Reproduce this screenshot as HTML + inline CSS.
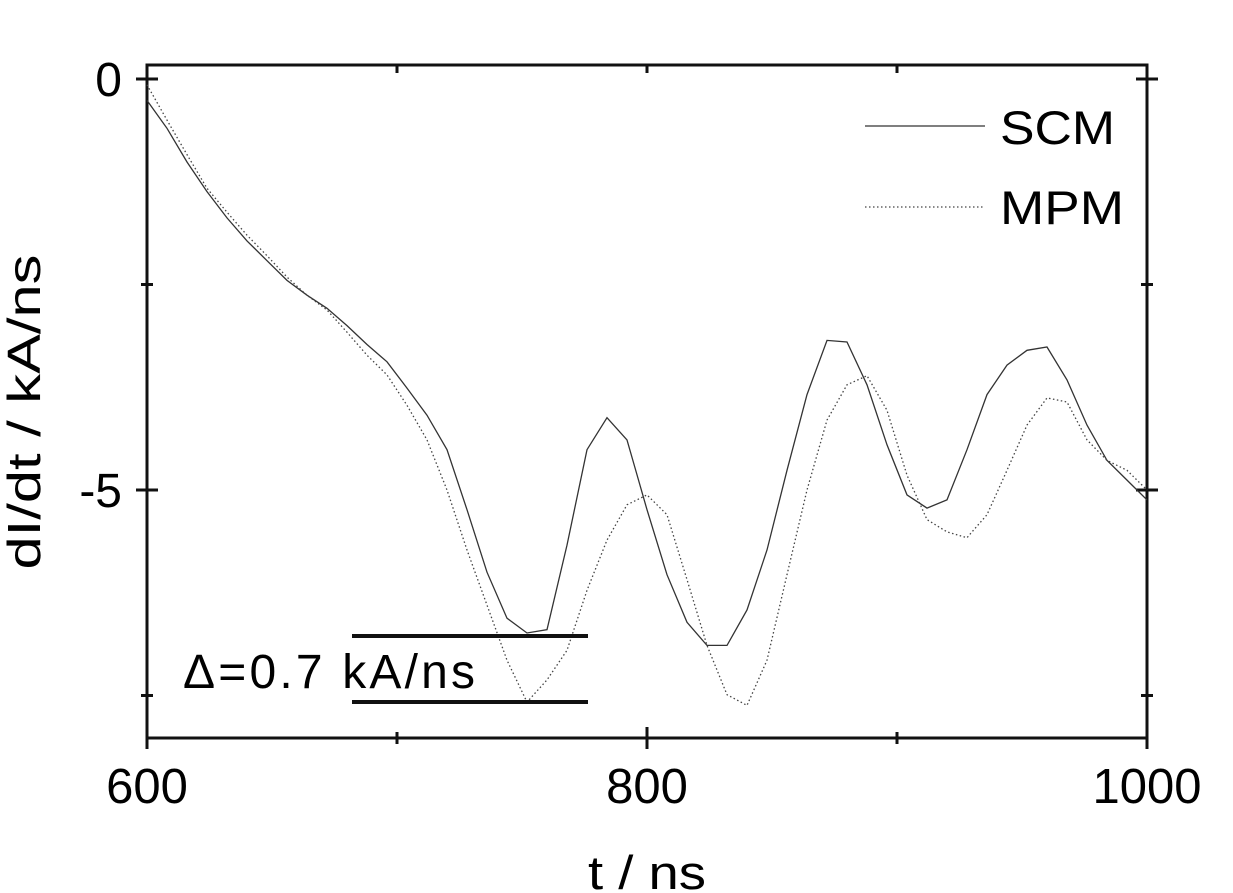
<!DOCTYPE html>
<html><head><meta charset="utf-8"><style>
body{margin:0;background:#fff}
svg{display:block;font-family:"Liberation Sans",Arial,sans-serif}
</style></head><body>
<svg id="chart" width="1233" height="893">
<g id="axes"></g>
<g id="series"></g>
<text x="588" y="889" font-size="47" textLength="118" lengthAdjust="spacingAndGlyphs">t / ns</text>
<text transform="translate(40,412) rotate(-90)" font-size="46" text-anchor="middle" textLength="315" lengthAdjust="spacingAndGlyphs">dI/dt / kA/ns</text>
<line x1="865" y1="126" x2="985" y2="126" stroke="#333" stroke-width="1.2"/>
<text x="1000" y="144" font-size="47" textLength="115" lengthAdjust="spacingAndGlyphs">SCM</text>
<line x1="865" y1="207" x2="985" y2="207" stroke="#444" stroke-width="1.2" stroke-dasharray="1.5,2.5"/>
<text x="1000" y="224" font-size="47" textLength="124" lengthAdjust="spacingAndGlyphs">MPM</text>
<line x1="352" y1="636" x2="588" y2="636" stroke="#111" stroke-width="4"/>
<line x1="352" y1="702" x2="588" y2="702" stroke="#111" stroke-width="4"/>
<text x="183" y="688" font-size="48" textLength="292" lengthAdjust="spacing">Δ=0.7 kA/ns</text>
</svg>
<script>
const times = [];
for (let i = 0; i <= 50; i++) times.push(600 + i * 8);
const scmValues = [-0.26,-0.60,-1.01,-1.37,-1.69,-1.97,-2.21,-2.45,-2.63,-2.79,-3.00,-3.23,-3.44,-3.76,-4.09,-4.51,-5.24,-6.00,-6.56,-6.74,-6.70,-5.67,-4.51,-4.12,-4.39,-5.24,-6.03,-6.61,-6.89,-6.89,-6.46,-5.73,-4.76,-3.84,-3.18,-3.20,-3.72,-4.45,-5.06,-5.22,-5.12,-4.51,-3.84,-3.48,-3.30,-3.26,-3.66,-4.21,-4.64,-4.88,-5.12];
const mpmValues = [-0.07,-0.50,-0.92,-1.33,-1.62,-1.90,-2.15,-2.41,-2.63,-2.81,-3.08,-3.36,-3.60,-3.97,-4.39,-5.00,-5.73,-6.40,-7.07,-7.58,-7.31,-6.95,-6.22,-5.61,-5.18,-5.06,-5.30,-6.09,-6.89,-7.49,-7.62,-7.07,-6.03,-5.00,-4.15,-3.72,-3.61,-4.03,-4.82,-5.36,-5.51,-5.58,-5.30,-4.76,-4.21,-3.88,-3.93,-4.39,-4.64,-4.76,-5.00];
const xTicks = [600, 700, 800, 900, 1000];
const xTickLabels = ["600", "", "800", "", "1000"];
const yTicks = [0, -2.5, -5, -7.5];
const yTickLabels = ["0", "", "-5", ""];

const L=147,R=1147,T=65,B=738;
const xs = t => L + (t - 600) * 2.5;
const ys = v => 79 - v * 82.2;
const NS = "http://www.w3.org/2000/svg";
const axes = document.getElementById('axes');
const series = document.getElementById('series');
function mk(tag, attrs, parent){const e=document.createElementNS(NS,tag);for(const k in attrs)e.setAttribute(k,attrs[k]);parent.appendChild(e);return e;}

const frame = mk('rect',{x:L,y:T,width:R-L,height:B-T,fill:'none',stroke:'#111','stroke-width':3},axes);



xTicks.forEach((t,i)=>{
  const major = xTickLabels[i] !== "";
  const len = major ? 22 : 12;
  const tb = mk('line',{x1:xs(t),x2:xs(t),y1:B-len/2,y2:B+len/2,stroke:'#111','stroke-width':3},axes);
  
  
  const tt = mk('line',{x1:xs(t),x2:xs(t),y1:T,y2:T+8,stroke:'#111','stroke-width':3},axes);
  
  
  if (major) {
    const lb = mk('text',{x:xs(t),y:803,'font-size':49,'text-anchor':'middle'},axes);
    lb.textContent = xTickLabels[i];
    
    
  }
});
yTicks.forEach((v,i)=>{
  const major = yTickLabels[i] !== "";
  const len = major ? 22 : 12;
  const tl = mk('line',{x1:L-len/2,x2:L+len/2,y1:ys(v),y2:ys(v),stroke:'#111','stroke-width':3},axes);
  
  
  const tr = mk('line',{x1:R-len/2,x2:R+len/2,y1:ys(v),y2:ys(v),stroke:'#111','stroke-width':3},axes);
  
  
  if (major) {
    const lb = mk('text',{x:122,y:ys(v)+17,'font-size':48,'text-anchor':'end'},axes);
    lb.textContent = yTickLabels[i];
    
    
  }
});

function pathOf(vals){return vals.map((v,i)=>(i?'L':'M')+xs(times[i]).toFixed(1)+','+ys(v).toFixed(1)).join(' ');}
const scm = mk('path',{d:pathOf(scmValues),fill:'none',stroke:'#333','stroke-width':1.3},series);


const mpm = mk('path',{d:pathOf(mpmValues),fill:'none',stroke:'#444','stroke-width':1.3,'stroke-dasharray':'1.5,2.5'},series);


</script>
</body></html>
